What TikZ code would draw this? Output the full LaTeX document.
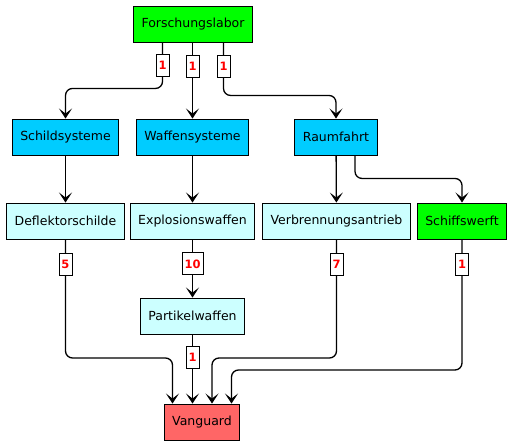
\documentclass[tikz,border=0pt]{standalone}
\usepackage{fontspec}
\setmainfont{DejaVu Sans}
\usetikzlibrary{arrows.meta,positioning,calc}

\definecolor{labgreen}{HTML}{00FF00}
\definecolor{branchblue}{HTML}{00CCFF}
\definecolor{techcyan}{HTML}{CCFFFF}
\definecolor{goalred}{HTML}{FF6666}

\begin{document}
\begin{tikzpicture}[
    x=1pt, y=-1pt,
    box/.style={draw, line width=0.9pt, minimum height=36pt, inner xsep=8pt, align=center, font=\fontsize{12.5}{14}\selectfont},
    arr/.style={-{Stealth[length=10pt, width=13pt, inset=5pt]}, line width=1.3pt, rounded corners=7pt},
    lbl/.style={draw, sharp corners, fill=white, line width=0.8pt, text=red, font=\bfseries\fontsize{11.5}{12}\selectfont, inner xsep=2.5pt, inner ysep=0pt, minimum height=22pt}
]
\useasboundingbox (0,0) rectangle (514,447);

\node[box, fill=labgreen] (F) at (193,24) {Forschungslabor};
\node[box, fill=branchblue] (S) at (65.5,137) {Schildsysteme};
\node[box, fill=branchblue] (W) at (192.5,137) {Waffensysteme};
\node[box, fill=branchblue] (R) at (336,137) {Raumfahrt};
\node[box, fill=techcyan] (D) at (65.5,221) {Deflektorschilde};
\node[box, fill=techcyan] (E) at (192.5,221) {Explosionswaffen};
\node[box, fill=techcyan] (B) at (336.5,221) {Verbrennungsantrieb};
\node[box, fill=labgreen] (Y) at (462,221) {Schiffswerft};
\node[box, fill=techcyan] (P) at (192.5,316) {Partikelwaffen};
\node[box, fill=goalred] (V) at (202,422) {Vanguard};

% Forschungslabor
\draw[arr] ([xshift=-30.5pt]F.south) -- node[lbl] {1} ++(0,46) -| (S.north);
\draw[arr] (F.south -| W.north) -- node[lbl, pos=0.31] {1} (W.north);
\draw[arr] ([xshift=30.5pt]F.south) -- node[lbl, pos=0.45] {1} ++(0,53) -| (R.north);

% Zweige
\draw[arr] (S) -- (D);
\draw[arr] (W) -- (E);
\draw[arr] (R) -- (B);
\draw[arr] ([xshift=19pt]R.south) -- ++(0,23) -| (Y.north);
\draw[arr] (E) -- node[lbl, pos=0.42] {10} (P);

% Vanguard
\draw[arr] (D.south) -- node[lbl, pos=0.21] {5} (D.south |- 0,358) -| ([xshift=-29.5pt]V.north);
\draw[arr] (P.south) -- node[lbl, pos=0.33] {1} (P.south |- V.north);
\draw[arr] (B.south) -- node[lbl, pos=0.21] {7} (B.south |- 0,358) -| ([xshift=10pt]V.north);
\draw[arr] (Y.south) -- node[lbl, pos=0.19] {1} (Y.south |- 0,370) -| ([xshift=29.5pt]V.north);
\end{tikzpicture}
\end{document}
